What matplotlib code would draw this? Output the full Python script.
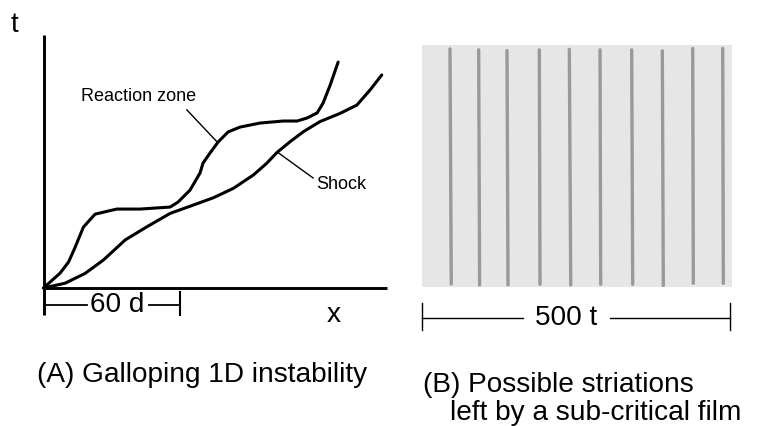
"""
Galloping 1D instability sketch and striations left by a sub-critical film.
"""

import matplotlib
matplotlib.use('Agg')
import matplotlib.pyplot as plt

plt.rcParams['font.family'] = ['Liberation Sans', 'DejaVu Sans']

# left panel: distance in units of d, time in arbitrary units
reaction_x = [0, 7.3, 11.0, 13.9, 17.5, 22.6, 32.1, 42.3, 55.5, 59.0, 64.2, 68.6, 69.9,
              73.0, 76.5, 80.9, 86.1, 94.9, 105.0, 111.1, 115.5, 119.9, 122.5, 125.6, 129.1]
reaction_t = [0, 5.9, 10.3, 16.2, 24.1, 29.2, 31.2, 31.2, 32.0, 34.0, 38.7, 45.5, 49.4,
              53.4, 57.7, 61.7, 63.6, 65.2, 66.0, 66.0, 67.2, 69.2, 73.1, 80.2, 89.3]

shock_x = [0, 9.5, 18.3, 26.3, 35.8, 45.3, 55.5, 65.7, 74.5, 83.2, 92.0, 97.8, 102.2,
           108.0, 113.9, 121.2, 129.9, 137.3, 143.1, 148.2]
shock_t = [0, 1.9, 5.8, 11.1, 19.0, 24.2, 29.5, 32.8, 35.7, 39.4, 44.7, 49.3, 53.5,
           57.8, 61.8, 65.8, 69.0, 72.3, 78.3, 84.2]

scale_d = 60

# right panel: striation positions (units of t), top and bottom ends
stria_top = [45.6, 91.9, 137.6, 189.7, 238.1, 287.6, 338.7, 388.1, 437.1, 485.5]
stria_bot = [47.7, 93.4, 139.2, 190.8, 240.4, 288.7, 340.3, 389.7, 438.1, 486.5]
stria_y_top = [0.984, 0.980, 0.977, 0.980, 0.982, 0.980, 0.980, 0.976, 0.986, 0.986]
stria_y_bot = [0.011, 0.007, 0.007, 0.010, 0.007, 0.010, 0.010, 0.005, 0.014, 0.014]
scale_t = 500

W, H = 766, 426
fig = plt.figure(figsize=(W / 100, H / 100), dpi=100)
big = 20.2


def px_box(x0, y0, x1, y1):
    return [x0 / W, 1 - y1 / H, (x1 - x0) / W, (y1 - y0) / H]


# ---- left: x-t diagram
ax = fig.add_axes(px_box(43.5, 35, 387, 288))
ax.set_xlim(0, 150.5)
ax.set_ylim(0, 100)
ax.axis('off')
ax.plot([0, 0], [-10.7, 100], color='black', lw=2.1, clip_on=False, solid_capstyle='butt')
ax.plot([0, 150.5], [0, 0], color='black', lw=2.1, clip_on=False, solid_capstyle='butt')

ax.plot(reaction_x, reaction_t, color='black', lw=2.2, solid_joinstyle='round',
        solid_capstyle='round', clip_on=False)
ax.plot(shock_x, shock_t, color='black', lw=2.2, solid_joinstyle='round',
        solid_capstyle='round', clip_on=False)

ax.plot([62.8, 76.0], [70.4, 57.8], color='black', lw=1.0, clip_on=False)
ax.text(41.6, 75.5, 'Reaction zone', fontsize=13, ha='center', va='center')
ax.plot([102.8, 118.1], [53.5, 43.5], color='black', lw=1.0, clip_on=False)
ax.text(119.5, 41.0, 'Shock', fontsize=13, ha='left', va='center')

# 60 d scale bar
ax.plot([0, 19.0], [-6.7, -6.7], color='black', lw=1.3, clip_on=False)
ax.plot([46.2, 58.8], [-6.7, -6.7], color='black', lw=1.3, clip_on=False)
ax.plot([scale_d, scale_d], [-1.6, -10.7], color='black', lw=1.5, clip_on=False)
ax.text(scale_d * 0.54, -6.7, f'{scale_d} d', fontsize=big, ha='center', va='center')

ax.text(127, -10.5, 'x', fontsize=big, ha='center', va='center')
ax.text(-12.8, 104, 't', fontsize=big, ha='center', va='center')

# ---- right: striations
bx = fig.add_axes(px_box(421.7, 45, 731.7, 286.7))
bx.set_xlim(0, 500)
bx.set_ylim(0, 1)
bx.axis('off')
bx.axvspan(0, 500, color='#e6e6e6', lw=0)
for xt, xb, yt, yb in zip(stria_top, stria_bot, stria_y_top, stria_y_bot):
    bx.plot([xt, xb], [yt, yb], color='#999999', lw=2.4, solid_capstyle='round')

# 500 t scale bar
bx.plot([0, 0], [-0.069, -0.179], color='black', lw=1.0, clip_on=False)
bx.plot([497, 497], [-0.069, -0.179], color='black', lw=1.0, clip_on=False)
bx.plot([0, 164], [-0.131, -0.131], color='black', lw=1.0, clip_on=False)
bx.plot([304, 497], [-0.131, -0.131], color='black', lw=1.0, clip_on=False)
bx.text(233.5, -0.131, f'{scale_t} t', fontsize=big, ha='center', va='center')

# captions
fig.text(37 / W, 1 - 382 / H, '(A) Galloping 1D instability', fontsize=big,
         ha='left', va='baseline')
fig.text(423 / W, 1 - 392 / H, '(B) Possible striations', fontsize=big,
         ha='left', va='baseline')
fig.text(450 / W, 1 - 420 / H, 'left by a sub-critical film', fontsize=big,
         ha='left', va='baseline')

fig.savefig('out.png', dpi=100)
